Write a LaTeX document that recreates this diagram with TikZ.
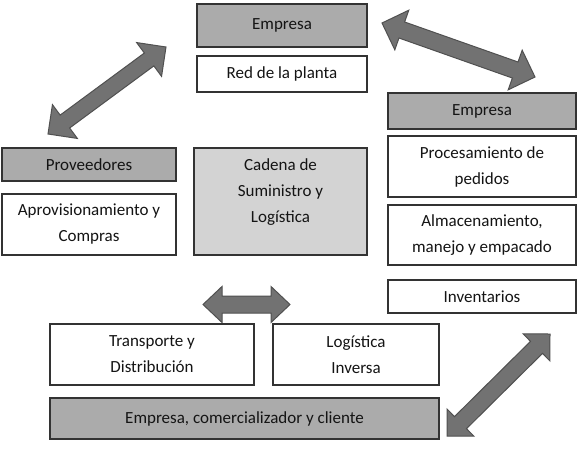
\documentclass[tikz,border=0pt]{standalone}
\usepackage{fontspec}
\setmainfont{Carlito}
\usetikzlibrary{calc}
\definecolor{hdr}{HTML}{ABABAB}
\definecolor{lite}{HTML}{D3D3D3}
\definecolor{arr}{HTML}{727272}
\definecolor{arrline}{HTML}{505050}
\definecolor{bord}{HTML}{333333}
\definecolor{txtc}{HTML}{141414}
% #1 tip a, #2 tip b, #3 half shaft width, #4 half head width, #5 head length
\newcommand\myblockarrow[5]{%
  \filldraw[blockarr] (#1)
    -- ($(#1)!#5!(#2)!#4!90:(#2)$)
    -- ($(#1)!#5!(#2)!#3!90:(#2)$)
    -- ($(#2)!#5!(#1)!#3!-90:(#1)$)
    -- ($(#2)!#5!(#1)!#4!-90:(#1)$)
    -- (#2)
    -- ($(#2)!#5!(#1)!#4!90:(#1)$)
    -- ($(#2)!#5!(#1)!#3!90:(#1)$)
    -- ($(#1)!#5!(#2)!#3!-90:(#2)$)
    -- ($(#1)!#5!(#2)!#4!-90:(#2)$)
    -- cycle;}
\begin{document}
\begin{tikzpicture}[x=1pt,y=-1pt,
  blockarr/.style={fill=arr, draw=arrline, line width=1pt, line join=miter},
  box/.style={draw=bord, line width=1.3pt, inner sep=0pt, align=center,
    font=\fontsize{17}{26}\selectfont, text=txtc},
  hbox/.style={box, fill=hdr},
  wbox/.style={box, fill=white},
  txt/.style={inner sep=0pt, align=center, font=\fontsize{17}{26}\selectfont, text=txtc}]
\useasboundingbox (0,0) rectangle (580,448);
\fill[white] (0,0) rectangle (580,448);
% arrow end points
\coordinate (a1s) at (48,134);   \coordinate (a1e) at (166,47);
\coordinate (a2s) at (382,23);   \coordinate (a2e) at (535,77);
\coordinate (a3s) at (203,304.5);\coordinate (a3e) at (290,304.5);
\coordinate (a4s) at (447,436);  \coordinate (a4e) at (550,334);
\myblockarrow{a1s}{a1e}{8pt}{21pt}{21pt}
\myblockarrow{a2s}{a2e}{8.5pt}{21pt}{21pt}
\myblockarrow{a3s}{a3e}{8.5pt}{18pt}{19pt}
\myblockarrow{a4s}{a4e}{8.5pt}{19pt}{19pt}
% boxes
\node[hbox, minimum width=170pt, minimum height=43pt] (emp1) at (282,25.5) {Empresa};
\node[wbox, minimum width=170pt, minimum height=36pt] (red) at (282,74) {Red de la planta};
\node[hbox, minimum width=188pt, minimum height=36pt] (emp2) at (482,111) {Empresa};
\node[wbox, minimum width=188pt, minimum height=61pt] (proc) at (482,166.5) {Procesamiento de\\pedidos};
\node[wbox, minimum width=188pt, minimum height=60pt] (alm) at (482,235) {Almacenamiento,\\manejo y empacado};
\node[wbox, minimum width=188pt, minimum height=33pt] (inv) at (482,296.5) {Inventarios};
\node[hbox, minimum width=174pt, minimum height=33pt] (prov) at (89,164.5) {Proveedores};
\node[wbox, minimum width=174pt, minimum height=61pt] (aprov) at (89,224.5) {Aprovisionamiento y\\Compras};
\node[box, fill=lite, minimum width=173pt, minimum height=107pt] (cad) at (280.5,201.5) {};
\node[txt, anchor=north] (cadt) at ($(cad.north)+(0,11)$) {Cadena de\\Suministro y\\Log\'istica};
\node[wbox, minimum width=204pt, minimum height=61pt] (trans) at (152,354.5) {Transporte y\\Distribuci\'on};
\node[wbox, minimum width=166pt, minimum height=61pt] (loginv) at (356,354.5) {Log\'istica\\Inversa};
\node[hbox, minimum width=389pt, minimum height=41pt] (emp3) at (244.5,418.5) {Empresa, comercializador y cliente};
\end{tikzpicture}
\end{document}
